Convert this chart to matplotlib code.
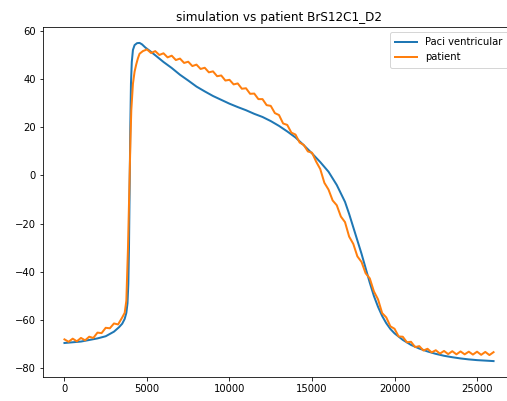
import matplotlib
matplotlib.use('Agg')
import matplotlib.pyplot as plt

# simulated AP (Paci ventricular model)
sim_t = [0, 1000, 2000, 2500, 3000, 3300, 3500, 3650, 3750, 3820, 3870, 3910,
         3950, 3990, 4030, 4080, 4150, 4250, 4400, 4550, 4700, 4900, 5150, 5500,
         6000, 6500, 7000, 7500, 8000, 8500, 9000, 9500, 10000, 10500, 11000,
         11500, 12000, 12500, 13000, 13500, 14000, 14500, 15000, 15500, 16000,
         16500, 17000, 17250, 17500, 17750, 18000, 18250, 18500, 18750, 19000,
         19250, 19500, 19750, 20000, 20500, 21000, 21500, 22000, 22500, 23000,
         23500, 24000, 24500, 25000, 25500, 26000]
sim_v = [-69.5, -68.9, -67.6, -66.7, -64.8, -63.0, -61.5, -59.5, -57.0, -53.0,
         -45.0, -30.0, -5.0, 20.0, 38.0, 47.0, 52.0, 54.0, 54.8, 54.9, 54.3,
         53.0, 51.7, 49.8, 47.0, 44.5, 41.7, 39.3, 36.8, 34.8, 32.9, 31.3, 29.7,
         28.3, 27.0, 25.5, 24.2, 22.5, 20.5, 18.2, 15.7, 12.5, 9.1, 5.5, 1.5,
         -4.0, -11.0, -16.0, -21.5, -27.0, -32.5, -38.5, -44.5, -50.0, -54.5,
         -58.3, -61.3, -63.7, -65.5, -68.2, -70.3, -71.8, -73.0, -74.0, -74.8,
         -75.4, -75.9, -76.3, -76.6, -76.8, -77.0]

# patient recording
pat_t = [0, 250, 500, 750, 1000, 1250, 1500, 1750, 2000, 2250, 2500, 2750,
         3000, 3250, 3500, 3650, 3750, 3850, 3950, 4000, 4050, 4150, 4250,
         4350, 4450, 4550, 4750,
         5000, 5250, 5500, 5750, 6000, 6250, 6500, 6750, 7000, 7250, 7500,
         7750, 8000, 8250, 8500, 8750, 9000, 9250, 9500, 9750, 10000, 10250,
         10500, 10750, 11000, 11250, 11500, 11750, 12000, 12250, 12500, 12750,
         13000, 13250, 13500, 13750, 14000, 14250, 14500, 14750, 15000, 15250,
         15500, 15750, 16000, 16250, 16500, 16750, 17000, 17250, 17500, 17750,
         18000, 18250, 18500, 18750, 19000, 19250, 19500, 19750, 20000, 20250,
         20500, 20750, 21000, 21250, 21500, 21750, 22000, 22250, 22500, 22750,
         23000, 23250, 23500, 23750, 24000, 24250, 24500, 24750, 25000, 25250,
         25500, 25750, 26000]
pat_v = [-68.0, -69.0, -67.7, -68.8, -67.4, -68.4, -66.9, -67.4, -65.2, -65.4,
         -63.2, -63.4, -61.4, -61.8, -58.9, -57.0, -52.0, -30.0, 0.0, 15.0,
         27.0, 38.0, 43.0, 46.0, 48.5, 50.4, 51.5,
         52.2, 50.7, 51.5, 49.9, 50.6, 48.9, 49.6, 47.8, 48.4, 46.6, 47.1,
         45.3, 45.9, 44.1, 44.6, 42.7, 43.1, 41.1, 41.4, 39.3, 39.6, 37.7,
         38.1, 35.9, 36.1, 33.8, 33.9, 31.6, 31.6, 29.1, 28.8, 25.8, 25.0,
         21.5, 20.9, 17.7, 16.9, 13.6, 12.6, 9.9, 9.4, 5.7, 2.6, -3.1, -5.9,
         -10.4, -12.4, -17.1, -19.4, -25.4, -28.4, -33.6, -35.9, -40.6, -42.7,
         -48.1, -51.4, -57.1, -58.9, -62.6, -63.6, -66.8, -66.9, -69.2, -69.0,
         -71.2, -70.8, -72.6, -71.9, -73.4, -72.5, -73.9, -72.8, -74.1, -72.9,
         -74.2, -73.0, -74.2, -73.1, -74.3, -73.1, -74.4, -73.2, -74.5, -73.3]

fig = plt.figure(figsize=(507 / 72, 401 / 72), dpi=72)
# axes run past the right edge, like the cropped original
ax = fig.add_axes([43 / 507, 24 / 401, 472 / 507, 350 / 401])
ax.plot(sim_t, sim_v, lw=2, label='Paci ventricular')
ax.plot(pat_t, pat_v, lw=2, label='patient')
ax.set_title('simulation vs patient BrS12C1_D2')
ax.legend(loc='upper right', bbox_to_anchor=(0.996, 1),
          handlelength=2.2, borderpad=0.55)

fig.savefig('out.png', dpi=72)
